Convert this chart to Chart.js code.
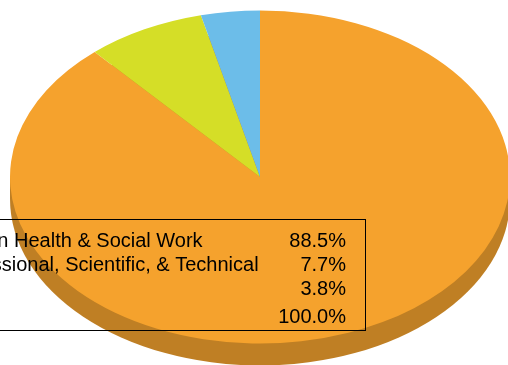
<!DOCTYPE html>
<html>
<head>
<meta charset="utf-8">
<title>Pie</title>
<script src="https://cdn.jsdelivr.net/npm/chart.js@4"></script>
<style>
    html, body { margin: 0; padding: 0; background: #ffffff; overflow: hidden; }
    canvas { display: block; }
</style>
</head>
<body>
<canvas id="pie" width="508" height="365"></canvas>
<script>
const categories = ['Human Health & Social Work', 'Professional, Scientific, & Technical', 'Other'];
const shares = [88.5, 7.7, 3.8];
const shareLabels = ['88.5%', '7.7%', '3.8%'];
const totalLabel = '100.0%';
const colors = ['#f5a22d', '#d5de27', '#6cbde9'];
const sideColor = '#bf7f24';

// the pie is tilted: squash it vertically, then add the side wall
const squash = 166.5 / 250;
const depth = 22;

function squashAround(ctx, arc) {
    ctx.translate(arc.x, arc.y);
    ctx.scale(1, squash);
    ctx.translate(-arc.x, -arc.y);
}

const tiltPlugin = {
    id: 'tilt',
    beforeDatasetsDraw(chart) {
        const ctx = chart.ctx;
        const first = chart.getDatasetMeta(0).data[0];
        const r = first.outerRadius;
        ctx.save();
        ctx.fillStyle = sideColor;
        ctx.fillRect(first.x - r, first.y, r * 2, depth);
        ctx.translate(0, depth);
        squashAround(ctx, first);
        ctx.beginPath();
        ctx.arc(first.x, first.y, r, 0, Math.PI * 2);
        ctx.fill();
        ctx.restore();
        ctx.save();
        squashAround(ctx, first);
    },
    afterDatasetsDraw(chart) {
        chart.ctx.restore();
    }
};

const tablePlugin = {
    id: 'table',
    afterDraw(chart) {
        const ctx = chart.ctx;
        const baselines = [247, 271, 295];
        ctx.save();
        ctx.font = '20px "Liberation Sans", Arial, sans-serif';
        ctx.fillStyle = '#000000';
        ctx.textBaseline = 'alphabetic';
        categories.forEach(function (name, i) {
            ctx.textAlign = 'left';
            ctx.fillText(name, -56, baselines[i]);
            ctx.textAlign = 'right';
            ctx.fillText(shareLabels[i], 346, baselines[i]);
        });
        ctx.fillText(totalLabel, 346, 323);
        ctx.strokeStyle = '#000000';
        ctx.lineWidth = 1;
        ctx.strokeRect(-60.5, 219.5, 426, 111);
        ctx.restore();
    }
};

new Chart(document.getElementById('pie').getContext('2d'), {
    type: 'pie',
    data: {
        labels: categories,
        datasets: [{
            data: shares,
            backgroundColor: colors,
            borderWidth: 0
        }]
    },
    options: {
        responsive: false,
        animation: false,
        radius: 250,
        layout: { padding: { left: 12, bottom: 11 } },
        plugins: {
            legend: { display: false },
            tooltip: { enabled: false }
        }
    },
    plugins: [tiltPlugin, tablePlugin]
});
</script>
</body>
</html>
